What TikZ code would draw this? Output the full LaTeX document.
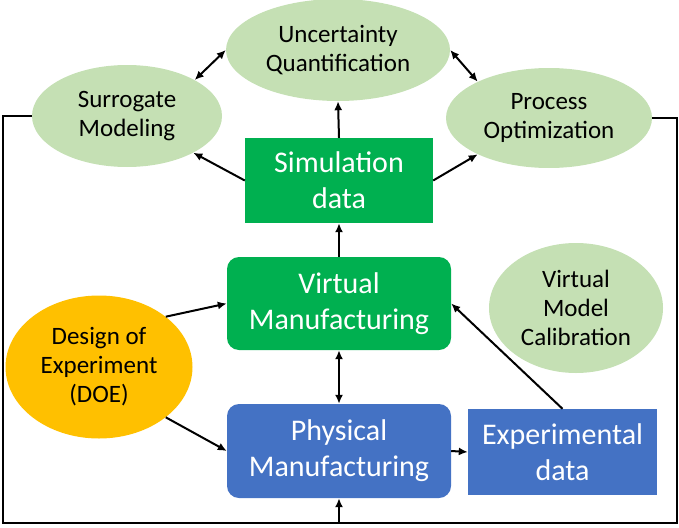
\documentclass[tikz,border=0pt]{standalone}
\usepackage{fontspec}
\setmainfont{Carlito}
\usepackage{xcolor}
\usepackage{tikz}
\usetikzlibrary{arrows.meta,shapes.geometric}

\definecolor{lgreen}{HTML}{C5E0B4}
\definecolor{dgreen}{HTML}{00B050}
\definecolor{mblue}{HTML}{4472C4}
\definecolor{orng}{HTML}{FFC000}

\begin{document}
\begin{tikzpicture}[x=1pt,y=-1pt,
        oval/.style={ellipse,fill=#1,inner sep=0pt,align=center,font=\fontsize{25}{29}\selectfont},
        blk/.style={fill=#1,text=white,inner sep=0pt,align=center,font=\fontsize{30}{36}\selectfont},
        con/.style={line width=2pt,-{Latex[length=9pt,width=8pt]}},
        dcon/.style={line width=2pt,{Latex[length=9pt,width=8pt]}-{Latex[length=9pt,width=8pt]}},
        fb/.style={line width=2.4pt}]
        \useasboundingbox (0,0) rectangle (679,527);
        % ovals
        \node[oval=lgreen,minimum width=224,minimum height=102] (uq) at (338,50) {Uncertainty\\Quantification};
        \node[oval=lgreen,minimum width=190,minimum height=102] (sur) at (127,116) {Surrogate\\Modeling};
        \node[oval=lgreen,minimum width=206,minimum height=100] (po) at (549,118) {Process\\Optimization};
        \node[oval=lgreen,minimum width=174,minimum height=130] (vmc) at (576,308) {Virtual\\Model\\Calibration};
        \node[oval=orng,minimum width=187,minimum height=143] (doe) at (99,367) {Design of\\Experiment\\(DOE)};
        % boxes
        \node[blk=dgreen,minimum width=188,minimum height=85] (sim) at (339,180.5) {Simulation\\data};
        \node[blk=dgreen,rounded corners=12pt,minimum width=224,minimum height=93] (vm) at (339,303.5) {Virtual\\Manufacturing};
        \node[blk=mblue,rounded corners=12pt,minimum width=224,minimum height=94] (pm) at (339,451) {Physical\\Manufacturing};
        \node[blk=mblue,minimum width=189,minimum height=86] (exp) at (562.5,452) {Experimental\\data};
        % arrows
        \draw[con] (doe.37) -- (vm.west);
        \draw[con] (doe.-37) -- (pm.west);
        \draw[dcon] (vm.south) -- (pm.north);
        \draw[con] (pm.east) -- (exp.west);
        \draw[con] (exp.north) -- (vm.east);
        \draw[con] (vm.north) -- (sim.south);
        \draw[con] (sim.north) -- (uq.south);
        \draw[con] (sim.west) -- (sur.-29);
        \draw[con] (sim.east) -- (po.-153);
        \draw[dcon] (uq.west) -- (sur.28);
        \draw[dcon] (uq.east) -- (po.153);
        % feedback loop
        \coordinate (bl) at (3,523);
        \coordinate (br) at (677,523);
        \draw[fb,-{Latex[length=9pt,width=8pt]}] (sur.west) -| (bl) -| (pm.south);
        \draw[fb] (po.east) -| (br) -- (br -| pm.south);
      \end{tikzpicture}
\end{document}
